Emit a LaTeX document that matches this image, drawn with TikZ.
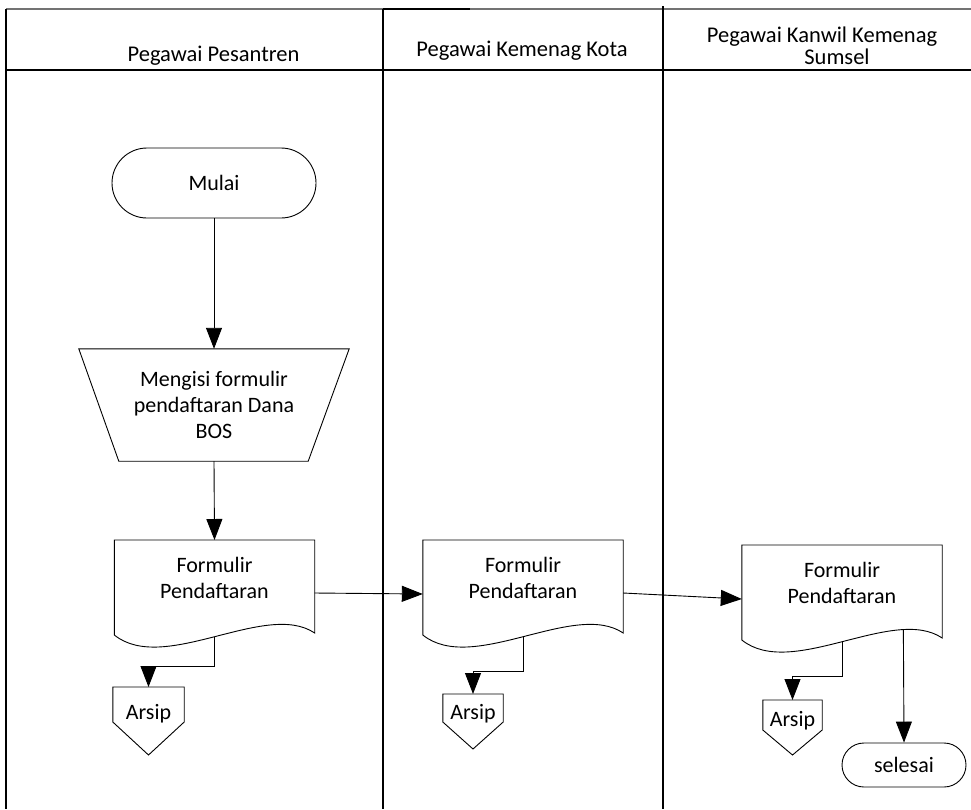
\documentclass[tikz,border=0pt]{standalone}
\usepackage{fontspec}
\setmainfont{Carlito}
\usetikzlibrary{arrows.meta,calc}

\tikzset{
  x=1pt, y=-1pt,
  flow/.style={draw=black, line width=0.9pt},
  arrowline/.style={flow, -{Triangle[length=21pt,width=16pt]}},
  lane/.style={draw=black, line width=1.3pt},
  lbl/.style={font=\fontsize{22}{26}\selectfont, align=center, inner sep=0pt},
  headlbl/.style={lbl, font=\fontsize{22.5}{22.5}\selectfont},
  terminal/.style={lbl, draw=black, line width=0.9pt},
  docnode/.style={lbl, minimum width=200pt, minimum height=75pt, anchor=north},
  arsipnode/.style={lbl, anchor=north}
}

% Document symbol: flat top, wavy bottom; defines mid / crest / in / out points
\newcommand\drawdoc[1]{%
  \draw[flow] (#1.north west) -- (#1.north east) -- ($(#1.north east)+(0,93)$)
    .. controls ($(#1.north east)+(-49,60)$) and ($(#1.north west)+(50,135)$) ..
    ($(#1.north west)+(0,95)$)
    coordinate[pos=0.5] (#1-mid) coordinate[pos=0.22] (#1-crest) -- cycle;
  \coordinate (#1-in) at ($(#1.north west)+(0,54)$);
  \coordinate (#1-out) at ($(#1.north east)+(0,53)$);
}

% Off-page (archive) symbol: box with a pointed bottom
% #2 = height of the straight sides, #3 = depth of the point below them
\newcommand\drawarsip[3]{%
  \draw[flow] (#1.north west) -- (#1.north east) -- ($(#1.north east)+(0,#2)$)
    -- ($(#1.north)+(0,#2+#3)$) -- ($(#1.north west)+(0,#2)$) -- cycle;
}

\begin{document}
\begin{tikzpicture}
\useasboundingbox (0,0) rectangle (971,809);

% swimlane frame
\draw[lane, draw=black!55] (6,9) -- (971,9);
\draw[lane] (383,9) -- (470,9);
\draw[lane] (6,9) -- (6,809);
\draw[lane] (6,70) -- (971,70);
\draw[lane] (383,9) -- (383,809);
\draw[lane] (663,6) -- (663,809);

% lane titles
\node[headlbl] (h1) at (213.5,56) {Pegawai Pesantren};
\node[headlbl] (h2) at (522,51) {Pegawai Kemenag Kota};
\node[headlbl] (h3) at (822,46)
  {Pegawai Kanwil Kemenag\\\hspace*{30pt}Sumsel};

% Pegawai Pesantren
\node[terminal, minimum width=204pt, minimum height=70pt, rounded corners=35pt]
  (mulai) at (214,183) {Mulai};
\node[lbl, minimum width=270pt, minimum height=112pt] (isi) at (214,405)
  {Mengisi formulir\\pendaftaran Dana\\BOS};
\draw[flow] (isi.north west) -- (isi.north east) -- ($(isi.south east)+(-41,0)$)
  -- ($(isi.south west)+(40,0)$) -- cycle;

\node[docnode] (d1) at (214.5,540) {Formulir\\Pendaftaran};
\drawdoc{d1}
\node[arsipnode, minimum width=71pt, minimum height=52pt] (a1) at (148.5,687) {Arsip};
\drawarsip{a1}{35}{33}

% Pegawai Kemenag Kota
\node[docnode] (d2) at (523,540) {Formulir\\Pendaftaran};
\drawdoc{d2}
\node[arsipnode, minimum width=60pt, minimum height=38pt] (a2) at (473,694) {Arsip};
\drawarsip{a2}{28}{27}

% Pegawai Kanwil Kemenag Sumsel
\node[docnode] (d3) at (842,545) {Formulir\\Pendaftaran};
\drawdoc{d3}
\node[arsipnode, minimum width=59pt, minimum height=40pt] (a3) at (792.5,700) {Arsip};
\drawarsip{a3}{30}{25}
\node[terminal, minimum width=124pt, minimum height=44pt, rounded corners=22pt]
  (selesai) at (904,765) {selesai};

% connectors
\draw[arrowline] (mulai.south) -- (isi.north);
\draw[arrowline] (isi.south) -- (d1.north);
\draw[arrowline] (d1-out) -- (d2-in);
\draw[arrowline] (d2-out) -- (d3-in);
\draw[arrowline] (d1-mid) -- ++(0,30) -| (a1.north);
\draw[arrowline] (d2-mid) -- ++(0,35) -| (a2.north);
\draw[arrowline] (d3-mid) -- ++(0,35) -| (a3.north);
\draw[arrowline] (d3-crest) -- (selesai.north);
\end{tikzpicture}
\end{document}
